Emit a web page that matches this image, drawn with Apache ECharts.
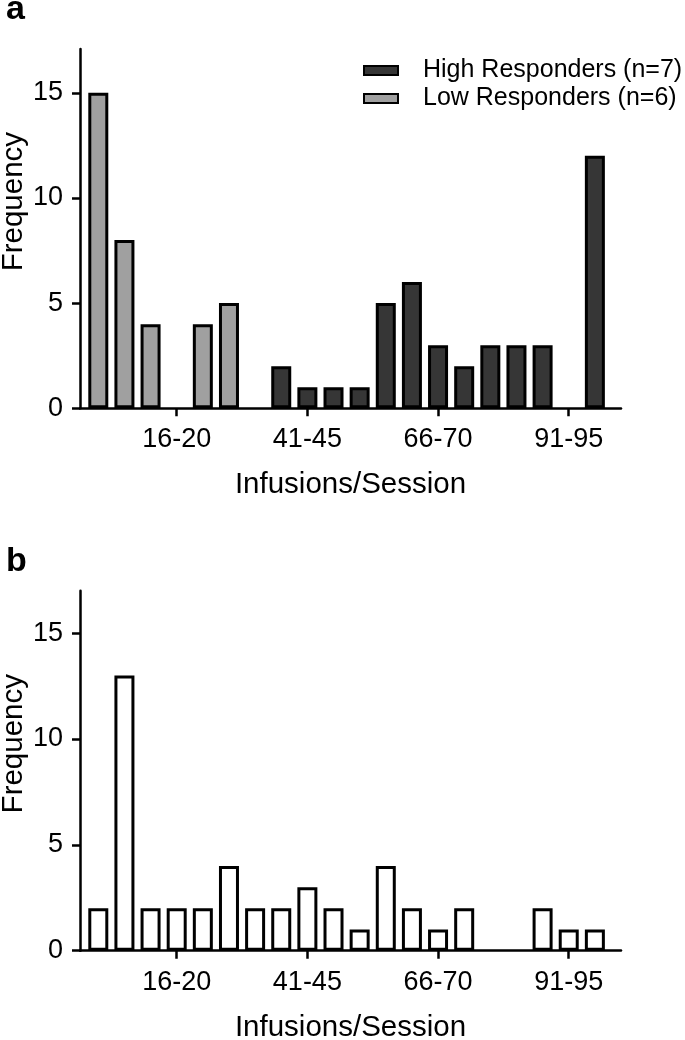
<!DOCTYPE html>
<html>
<head>
<meta charset="utf-8">
<script src="https://cdn.jsdelivr.net/npm/echarts@6/dist/echarts.min.js"></script>
<style>
  html, body { margin: 0; padding: 0; background: #fff; }
  #chart { width: 685px; height: 1040px; }
</style>
</head>
<body>
<div id="chart"></div>
<script>
// ---- data ----
const categories = ['1-5','6-10','11-15','16-20','21-25','26-30','31-35','36-40','41-45','46-50',
                    '51-55','56-60','61-65','66-70','71-75','76-80','81-85','86-90','91-95','96-100'];
const tickLabels = ['16-20','41-45','66-70','91-95'];
const yTicks = [0, 5, 10, 15];
const highResponders = [null,null,null,null,null,null,null,2,1,1,1,5,6,3,2,3,3,3,null,12];
const lowResponders  = [15,8,4,null,4,5,null,null,null,null,null,null,null,null,null,null,null,null,null,null];
const allSubjects    = [2,13,2,2,2,4,2,2,3,2,1,4,2,1,2,null,null,2,1,1];
const highName = 'High Responders (n=7)';
const lowName = 'Low Responders (n=6)';

// ---- chart ----
const FONT = '"Liberation Sans", Arial, Helvetica, sans-serif';
const tickValues = tickLabels.map(l => categories.indexOf(l));
const toPairs = arr => arr.map((v, i) => [i, v]).filter(p => p[1] !== null);

function xAxisCfg(gi) {
  return {
    gridIndex: gi, type: 'value', min: -0.7, max: 20,
    splitLine: { show: false },
    axisLine: { show: true, onZero: false, lineStyle: { color: '#000', width: 2.5 } },
    axisTick: { show: true, customValues: tickValues, length: 8, lineStyle: { color: '#000', width: 2.5 } },
    axisLabel: { customValues: tickValues, formatter: v => categories[Math.round(v)],
                 fontSize: 27, color: '#000', fontFamily: FONT, margin: 18 },
    name: 'Infusions/Session', nameLocation: 'middle', nameGap: 62, nameMoveOverlap: false,
    nameTextStyle: { fontSize: 29.5, color: '#000', fontFamily: FONT }
  };
}
function yAxisCfg(gi, max) {
  return {
    gridIndex: gi, type: 'value', min: 0, max: max,
    splitLine: { show: false },
    axisLine: { show: true, onZero: false, lineStyle: { color: '#000', width: 2.5 } },
    axisTick: { show: true, customValues: yTicks, length: 8, lineStyle: { color: '#000', width: 2.5 } },
    axisLabel: { customValues: yTicks, fontSize: 27, color: '#000', fontFamily: FONT, margin: 17 },
    name: 'Frequency', nameLocation: 'middle', nameGap: 51, nameMoveOverlap: false,
    nameTextStyle: { fontSize: 29.5, color: '#000', fontFamily: FONT, padding: [0, 0, 0, 54] }
  };
}
const barStyle = color => ({ color: color, borderColor: '#000', borderWidth: 3 });

const chart = echarts.init(document.getElementById('chart'), null, { renderer: 'canvas' });
chart.setOption({
  animation: false,
  backgroundColor: '#fff',
  title: [
    { text: 'a', left: 6, top: -7, padding: 0, textStyle: { fontSize: 34, fontWeight: 'bold', color: '#000', fontFamily: FONT } },
    { text: 'b', left: 6, top: 545, padding: 0, textStyle: { fontSize: 34, fontWeight: 'bold', color: '#000', fontFamily: FONT } }
  ],
  legend: {
    data: [highName, lowName], orient: 'vertical', left: 363, top: 58, padding: 0,
    icon: 'rect', itemWidth: 34, itemHeight: 9, itemGap: 3,
    textStyle: { fontSize: 25, color: '#000', fontFamily: FONT, padding: [0, 0, 0, 20], lineHeight: 25 }
  },
  grid: [
    { left: 80, top: 49, width: 541, height: 359.3, containLabel: false, outerBoundsMode: 'none' },
    { left: 80, top: 590.7, width: 541, height: 360, containLabel: false, outerBoundsMode: 'none' }
  ],
  xAxis: [xAxisCfg(0), xAxisCfg(1)],
  yAxis: [yAxisCfg(0, 17.08), yAxisCfg(1, 17)],
  series: [
    { name: highName, type: 'bar', xAxisIndex: 0, yAxisIndex: 0, barWidth: 20, barGap: '-100%',
      data: toPairs(highResponders), itemStyle: barStyle('#363636') },
    { name: lowName, type: 'bar', xAxisIndex: 0, yAxisIndex: 0, barWidth: 20, barGap: '-100%',
      data: toPairs(lowResponders), itemStyle: barStyle('#a0a0a0') },
    { name: 'All', type: 'bar', xAxisIndex: 1, yAxisIndex: 1, barWidth: 20,
      data: toPairs(allSubjects), itemStyle: barStyle('#ffffff') }
  ]
});
</script>
</body>
</html>
